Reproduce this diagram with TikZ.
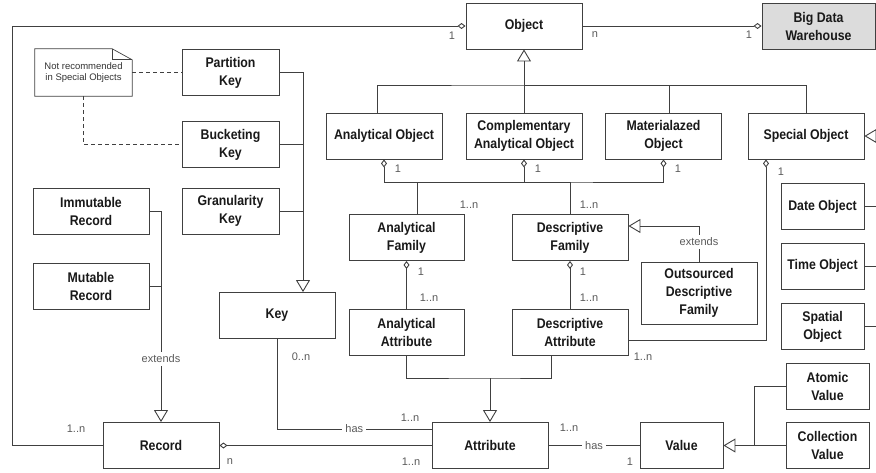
\documentclass[tikz,border=0pt]{standalone}
\usepackage{fontspec}
\setmainfont{Liberation Sans}
\newfontfamily\boxfont{Liberation Sans}[FakeStretch=0.88]
\usetikzlibrary{arrows.meta}
\definecolor{linegray}{HTML}{404040}
\definecolor{labelgray}{HTML}{5A5A5A}
\definecolor{bdwfill}{HTML}{DCDCDC}

\begin{document}
\begin{tikzpicture}[x=1pt, y=-1pt,
    box/.style={draw=linegray, line width=0.9pt, fill=white, minimum width=116pt, minimum height=46pt,
        align=center, inner sep=2pt, text=black!90, font=\boxfont\bfseries\fontsize{14}{18}\selectfont},
    sbox/.style={box, minimum width=83pt},
    kbox/.style={box, minimum width=97pt},
    lbl/.style={text=labelgray, inner sep=1pt, font=\fontsize{11}{13}\selectfont},
    hlbl/.style={lbl, fill=white, inner sep=3pt},
    con/.style={draw=linegray, line width=0.9pt},
    agg/.style={con, {Diamond[open,length=8pt,width=6pt]}-},
    gen/.style={con, -{Triangle[open,length=12pt,width=14pt]}}]
    \useasboundingbox (0,0) rectangle (876,472);

    % objects
    \node[box] (obj) at (524,26) {Object};
    \node[box, fill=bdwfill, minimum width=113pt] (bdw) at (818.5,26) {Big Data\\Warehouse};
    \node[box] (ao) at (384,136) {Analytical Object};
    \node[box] (cao) at (524,136) {Complementary\\Analytical Object};
    \node[box] (mo) at (663.5,136) {Materialazed\\Object};
    \node[box] (so) at (806,136) {Special Object};
    \foreach [count=\i] \t/\y in {Date Object/206.5, Time Object/266, {Spatial\\Object}/326.5}
        \node[sbox] (sp\i) at (822.5,\y) {\t};

    % families and attributes
    \node[box, minimum width=115pt] (af) at (406.5,237.5) {Analytical\\Family};
    \node[box] (df) at (570,237.5) {Descriptive\\Family};
    \node[box, minimum height=62pt] (odf) at (699,293) {Outsourced\\Descriptive\\Family};
    \node[box, minimum width=115pt] (aa) at (406.5,332) {Analytical\\Attribute};
    \node[box] (da) at (570,332) {Descriptive\\Attribute};
    \node[box] (att) at (490,445.5) {Attribute};
    \node[sbox] (val) at (681.5,445.5) {Value};
    \node[sbox] (av) at (827.5,386) {Atomic\\Value};
    \node[sbox] (cv) at (827.5,445.5) {Collection\\Value};

    % keys and records
    \node[kbox] (pk) at (230.5,72.5) {Partition\\Key};
    \node[kbox] (bk) at (230.5,144.5) {Bucketing\\Key};
    \node[kbox] (gk) at (230.5,211) {Granularity\\Key};
    \node[box] (key) at (277,315.5) {Key};
    \node[box] (ir) at (91,211) {Immutable\\Record};
    \node[box] (mr) at (91,286.5) {Mutable\\Record};
    \node[box] (rec) at (161,445.5) {Record};

    % note
    \node[align=center, minimum width=97pt, minimum height=47pt, inner sep=1pt, text=black!80,
        font=\fontsize{9.5}{11.5}\selectfont] (nt) at (83.5,72.5) {Not recommended\\in Special Objects};
    \draw[con, line width=0.7pt] (nt.north west) -- ([xshift=-20pt]nt.north east) -- ([yshift=-11pt]nt.north east)
        -- (nt.south east) -- (nt.south west) -- cycle;
    \draw[con, line width=0.7pt] ([xshift=-20pt]nt.north east) |- ([yshift=-11pt]nt.north east);
    \draw[con, dashed, dash pattern=on 4pt off 3pt] (nt.east) -- (pk.west);
    \draw[con, dashed, dash pattern=on 4pt off 3pt] (nt.south) |- (bk.west);

    \coordinate (lft) at (12,0);
    \coordinate (rim) at (876,0);
    \coordinate (bar) at (524,85);
    \coordinate (agb) at (524,182);
    \coordinate (agt) at (490,378);
    \coordinate (vj) at (754,445.5);
    \coordinate (kin) at ([xshift=26pt]key.north);

    % object hierarchy
    \draw[agg] (bdw.west) -- (obj.east);
    \draw[agg] (obj.west) -- (obj.west -| lft) |- (rec.west);
    \draw[con] ([xshift=-7pt]ao.north) |- (bar) -| (so.north);
    \draw[con] ([xshift=5.5pt]mo.north) |- (bar);
    \draw[gen] (cao.north) -- (obj.south);
    \draw[gen] (so.east -| rim) -- (so.east);
    \draw[con] \foreach \i in {1,2,3}{(sp\i.east) -- (sp\i.east -| rim)};

    % families
    \draw[con, {Diamond[open,length=8pt,width=6pt]}-{Diamond[open,length=8pt,width=6pt]}] (ao.south) |- (agb) -| (mo.south);
    \draw[agg] (cao.south) -- (agb);
    \draw[con] ([xshift=10.5pt]af.north) |- (agb);
    \draw[con] (df.north) |- (agb);
    \draw[agg] (af.south) -- (aa.north);
    \draw[agg] (df.south) -- (da.north);
    \draw[gen] (odf.north) |- ([yshift=11.5pt]df.east);
    \node[hlbl] (ext2) at (699,242) {extends};
    \draw[agg] ([xshift=-40pt]so.south) |- ([yshift=-8pt]da.east);

    % attributes
    \draw[con] (aa.south) |- (agt) -| ([xshift=-19pt]da.south);
    \draw[gen] (agt) -- (att.north);
    \draw[con] (key.south) |- node[hlbl, pos=0.75] (has1) {has} ([yshift=16.5pt]att.west);
    \draw[agg] (rec.east) -- (att.west);
    \draw[con] (att.east) -- node[hlbl] (has2) {has} (val.west);
    \draw[gen] (vj) -- (val.east);
    \draw[con] (av.west) -| (vj) -- (cv.west);

    % keys and records
    \draw[gen] (pk.east) -| (kin);
    \draw[con] (bk.east) -- (bk.east -| kin);
    \draw[con] (gk.east) -- (gk.east -| kin);
    \draw[gen] (ir.east) -| (rec.north);
    \draw[con] (mr.east) -- (mr.east -| rec.north);
    \node[hlbl] (ext1) at (161,359) {extends};

    % multiplicities
    \foreach [count=\i] \t/\p in {1/{452,36}, n/{595,35}, 1/{749,35}, 1/{398,169}, 1/{538,169}, 1/{678,169},
        1/{781,172}, 1..n/{469,205}, 1..n/{589,205}, 1/{421,272}, 1/{583,272}, 1..n/{429,298},
        1..n/{589,298}, 1..n/{643,357}, 0..n/{301,357}, 1..n/{410,418}, 1..n/{411,462}, n/{230,462},
        1..n/{76,429}, 1..n/{569,428}, 1/{630,462}}
        \node[lbl] (m\i) at (\p) {\t};
\end{tikzpicture}
\end{document}
